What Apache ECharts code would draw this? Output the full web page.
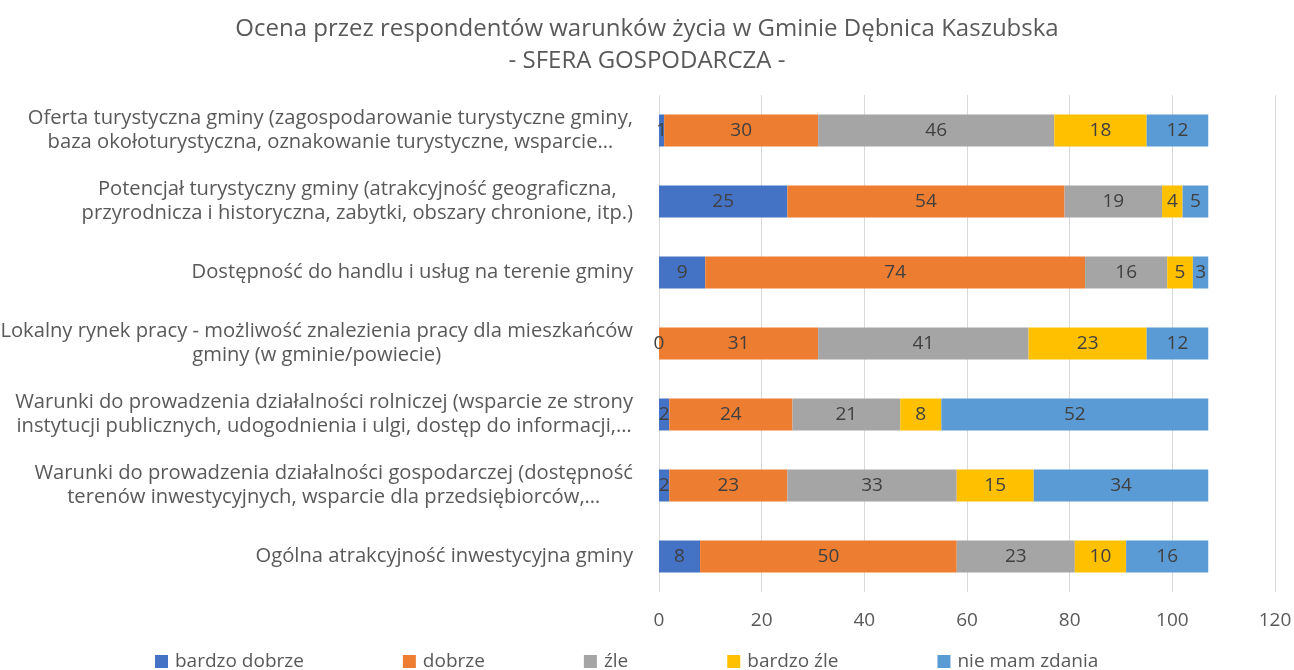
<!DOCTYPE html>
<html>
<head>
<meta charset="utf-8">
<script src="https://cdn.jsdelivr.net/npm/echarts@6/dist/echarts.min.js"></script>
<style>
  html, body { margin: 0; padding: 0; background: #fff; }
  #chart { width: 1294px; height: 670px; }
</style>
</head>
<body>
<div id="chart"></div>
<script>
  // kategorie (od góry do dołu)
  const categories = [
    'Oferta turystyczna gminy (zagospodarowanie turystyczne gminy,\nbaza okołoturystyczna, oznakowanie turystyczne, wsparcie…',
    'Potencjał turystyczny gminy (atrakcyjność geograficzna,\nprzyrodnicza i historyczna, zabytki, obszary chronione, itp.)',
    'Dostępność do handlu i usług na terenie gminy',
    'Lokalny rynek pracy - możliwość znalezienia pracy dla mieszkańców\ngminy (w gminie/powiecie)',
    'Warunki do prowadzenia działalności rolniczej (wsparcie ze strony\ninstytucji publicznych, udogodnienia i ulgi, dostęp do informacji,…',
    'Warunki do prowadzenia działalności gospodarczej (dostępność\nterenów inwestycyjnych, wsparcie dla przedsiębiorców,…',
    'Ogólna atrakcyjność inwestycyjna gminy'
  ]
  const seriesNames = ['bardzo dobrze', 'dobrze', 'źle', 'bardzo źle', 'nie mam zdania']
  const bardzoDobrze = [1, 25, 9, 0, 2, 2, 8]
  const dobrze = [30, 54, 74, 31, 24, 23, 50]
  const zle = [46, 19, 16, 41, 21, 33, 23]
  const bardzoZle = [18, 4, 5, 23, 8, 15, 10]
  const nieMamZdania = [12, 5, 3, 12, 52, 34, 16]
  const xTicks = [0, 20, 40, 60, 80, 100, 120]

  const colors = ['#4472C4', '#ED7D31', '#A5A5A5', '#FFC000', '#5B9BD5']
  const allValues = [bardzoDobrze, dobrze, zle, bardzoZle, nieMamZdania]
  const fontFamily = '"Open Sans", "Liberation Sans", sans-serif'
  const textColor = '#595959'

  const chartInstance = echarts.init(document.getElementById('chart'))

  const series = seriesNames.map((name, i) => {
    return {
      name: name,
      type: 'bar',
      stack: 'total',
      barWidth: 32,
      data: allValues[i],
      itemStyle: { color: colors[i] },
      label: {
        show: true,
        position: 'inside',
        color: '#404040',
        fontSize: 19,
        fontFamily: fontFamily
      }
    }
  })

  const option = {
    backgroundColor: '#fff',
    animation: false,
    title: {
      text: 'Ocena przez respondentów warunków życia w Gminie Dębnica Kaszubska\n- SFERA GOSPODARCZA -',
      left: 'center',
      top: 8,
      textStyle: {
        fontSize: 24,
        fontWeight: 'normal',
        color: textColor,
        fontFamily: fontFamily,
        lineHeight: 32
      }
    },
    legend: {
      left: 150,
      top: 647,
      itemWidth: 13,
      itemHeight: 13,
      itemGap: 99,
      icon: 'rect',
      data: seriesNames,
      textStyle: {
        fontSize: 19,
        color: textColor,
        fontFamily: fontFamily,
        padding: [0, 0, 0, 2]
      }
    },
    grid: {
      left: 659,
      right: 19,
      top: 95,
      bottom: 78,
      outerBoundsMode: 'none'
    },
    xAxis: {
      type: 'value',
      min: xTicks[0],
      max: xTicks[xTicks.length - 1],
      interval: xTicks[1] - xTicks[0],
      axisLine: { show: false },
      axisTick: { show: false },
      splitLine: { lineStyle: { color: '#d9d9d9' } },
      axisLabel: {
        margin: 19,
        fontSize: 19,
        color: textColor,
        fontFamily: fontFamily
      }
    },
    yAxis: {
      type: 'category',
      inverse: true,
      data: categories,
      axisLine: { show: false },
      axisTick: { show: false },
      axisLabel: {
        margin: 26,
        fontSize: 20.2,
        color: textColor,
        fontFamily: fontFamily,
        lineHeight: 24,
        formatter: (value) => {
          return value.split('\n').map(line => '{c|' + line + '}').join('\n')
        },
        rich: {
          c: {
            align: 'center',
            fontSize: 20.2,
            color: textColor,
            fontFamily: fontFamily,
            lineHeight: 24
          }
        }
      }
    },
    series: series
  }
  chartInstance.setOption(option)
</script>
</body>
</html>
